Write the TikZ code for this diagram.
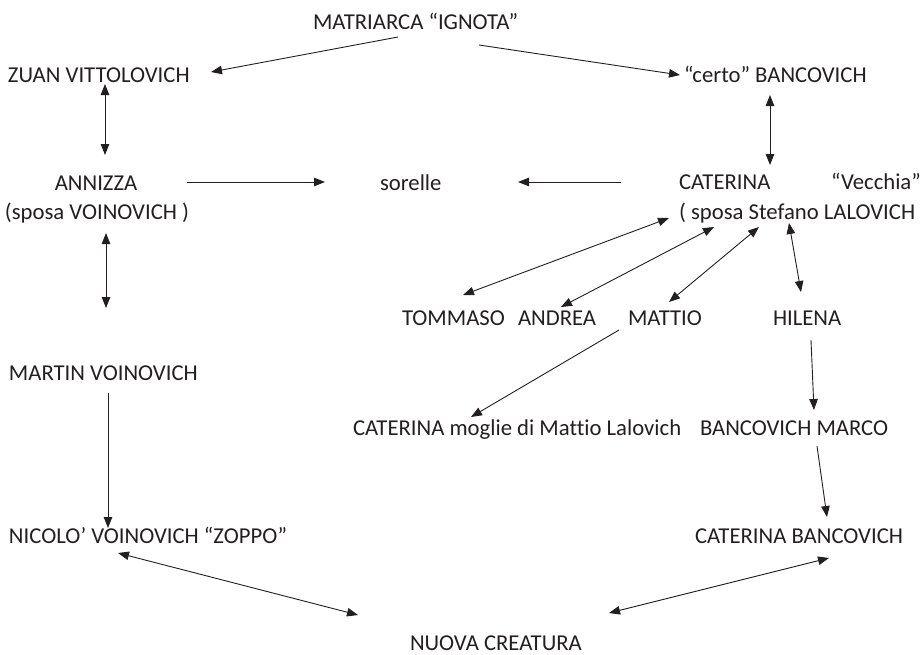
\documentclass[tikz,border=0pt]{standalone}
\usepackage{fontspec}
\setmainfont[Ligatures={NoCommon}]{Carlito}
\usetikzlibrary{arrows.meta}
\definecolor{ink}{HTML}{231F20}
\tikzset{
  lbl/.style={inner sep=0pt, outer sep=0pt, text=ink, font=\fontsize{22.7}{27}\selectfont},
  conn/.style={draw=ink, line width=0.9pt, -{Triangle[length=11pt,width=8.5pt]}},
  dconn/.style={draw=ink, line width=0.9pt, {Triangle[length=11pt,width=8.5pt]}-{Triangle[length=11pt,width=8.5pt]}}
}
\begin{document}
\begin{tikzpicture}[x=1pt,y=-1pt]
\useasboundingbox (0,0) rectangle (922,654);
% nodes
\node[lbl, anchor=base west] (mat) at (313,29) {MATRIARCA “IGNOTA”};
\node[lbl, anchor=base west] (zuan) at (8,82) {ZUAN VITTOLOVICH};
\node[lbl, anchor=base west] (certo) at (684,82) {“certo” BANCOVICH};
\node[lbl, anchor=base] (ann) at (96,190) {ANNIZZA};
\node[lbl, anchor=base] (sposav) at (97,219) {(sposa VOINOVICH )};
\node[lbl, anchor=base west] (sor) at (380,190) {sorelle};
\node[lbl, anchor=base west] (cat) at (679,189) {CATERINA};
\node[lbl, anchor=base west] (vec) at (831,189) {“Vecchia”};
\node[lbl, anchor=base west] (catb) at (679,219) {( sposa Stefano LALOVICH};
\node[lbl, anchor=base west] (tom) at (402,325) {TOMMASO};
\node[lbl, anchor=base west] (andrea) at (518,325) {ANDREA};
\node[lbl, anchor=base west] (mattio) at (628,325) {MATTIO};
\node[lbl, anchor=base west] (hilena) at (773,325) {HILENA};
\node[lbl, anchor=base west] (martin) at (9,380) {MARTIN VOINOVICH};
\node[lbl, anchor=base west] (catm) at (353,435) {CATERINA moglie di Mattio Lalovich};
\node[lbl, anchor=base west] (marco) at (700,435) {BANCOVICH MARCO};
\node[lbl, anchor=base west] (nicolo) at (9,543) {NICOLO’ VOINOVICH “ZOPPO”};
\node[lbl, anchor=base west] (catbanc) at (695,543) {CATERINA BANCOVICH};
\node[lbl, anchor=base west] (nuova) at (410,650) {NUOVA CREATURA};
% connectors
\draw[conn] ([shift={(85,8)}]mat.base west) -- ([shift={(203,-10)}]zuan.base west);
\draw[conn] ([shift={(166,16)}]mat.base west) -- ([shift={(-4,-7)}]certo.base west);
\draw[dconn] ([shift={(97,2)}]zuan.base west) -- ([shift={(9,-35)}]ann.base);
\draw[dconn] ([shift={(86,13)}]certo.base west) -- ([shift={(91,-24)}]cat.base west);
\draw[conn] ([shift={(91,-8)}]ann.base) -- ([shift={(-55,-8)}]sor.base west);
\draw[conn] ([shift={(-58,-7)}]cat.base west) -- ([shift={(138,-8)}]sor.base west);
\draw[dconn] ([shift={(9,14)}]sposav.base) -- ([shift={(9,89)}]sposav.base);
\draw[dconn] ([shift={(61,-30)}]tom.base west) -- ([shift={(-10,-1)}]catb.base west);
\draw[dconn] ([shift={(43,-18)}]andrea.base west) -- ([shift={(35,8)}]catb.base west);
\draw[dconn] ([shift={(41,-23)}]mattio.base west) -- ([shift={(80,8)}]catb.base west);
\draw[dconn] ([shift={(28,-33)}]hilena.base west) -- ([shift={(110,4)}]catb.base west);
\draw[conn] ([shift={(-9,5)}]mattio.base west) -- ([shift={(118,-18)}]catm.base west);
\draw[conn] ([shift={(38,15)}]hilena.base west) -- ([shift={(114,-25)}]marco.base west);
\draw[conn] ([shift={(117,11)}]marco.base west) -- ([shift={(132,-26)}]catbanc.base west);
\draw[conn] ([shift={(99,13)}]martin.base west) -- ([shift={(99,-15)}]nicolo.base west);
\draw[dconn] ([shift={(109,10)}]nicolo.base west) -- ([shift={(-52,-35)}]nuova.base west);
\draw[dconn] ([shift={(134,15)}]catbanc.base west) -- ([shift={(199,-37)}]nuova.base west);
\end{tikzpicture}
\end{document}
